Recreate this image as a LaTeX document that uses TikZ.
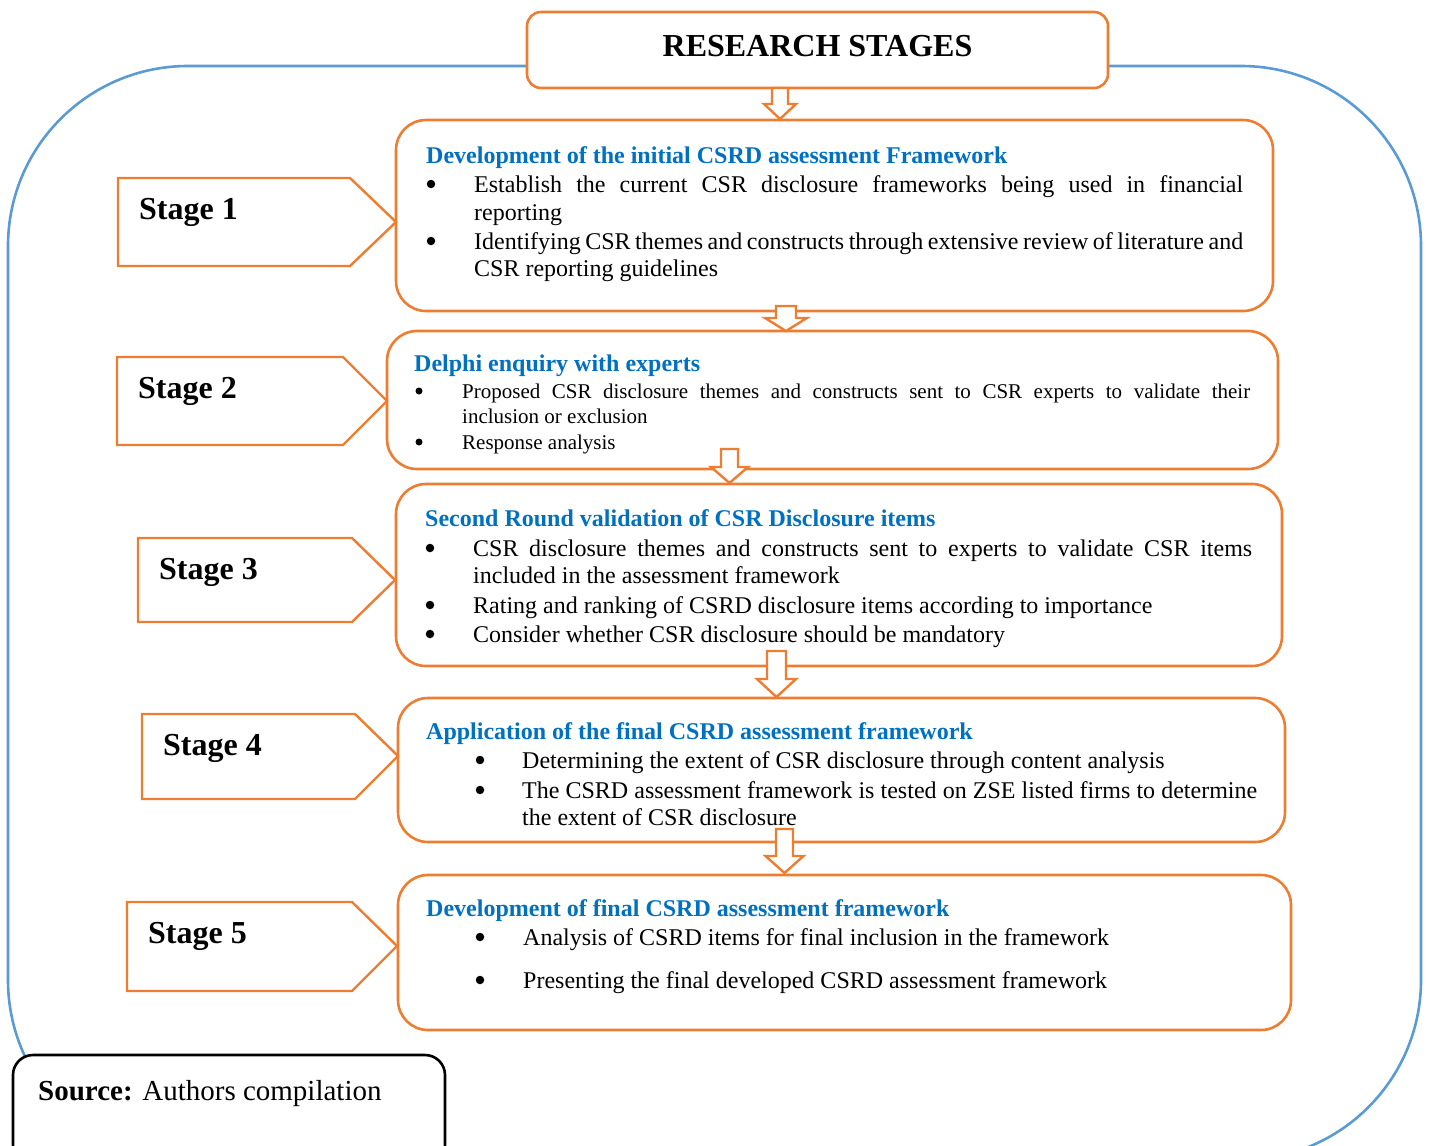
\documentclass[tikz,border=0pt]{standalone}
\usepackage{fontspec}
\setmainfont{Liberation Serif}
\definecolor{orangeline}{HTML}{ED7D31}
\definecolor{frameblue}{HTML}{5B9BD5}
\definecolor{headblue}{HTML}{0070C0}
\newcommand\hollowdown[6]{% centre x, top, head base, tip, shaft half width, head half width
  \draw[harrow] ({#1-#5},#2) -- ({#1+#5},#2) -- ({#1+#5},#3) -- ({#1+#6},#3)
    -- (#1,#4) -- ({#1-#6},#3) -- ({#1-#5},#3) -- cycle;}
\begin{document}
\begin{tikzpicture}[x=1pt,y=-1pt,
  outerframe/.style={draw=frameblue, line width=2.6pt, rounded corners=180pt},
  titlebox/.style={draw=orangeline, line width=2.6pt, rounded corners=14pt, fill=white, inner sep=0},
  stagebox/.style={draw=orangeline, line width=2.6pt, rounded corners=30pt, inner sep=0},
  tagshape/.style={draw=orangeline, line width=2.4pt, fill=white},
  harrow/.style={draw=orangeline, line width=2.4pt, fill=white, line join=miter},
  sourcebox/.style={draw=black, line width=2.6pt, rounded corners=20pt, fill=white, inner sep=0},
  taglabel/.style={font=\fontsize{32}{36}\selectfont\bfseries, anchor=base west, inner sep=0},
  head/.style={font=\fontsize{24}{28}\selectfont\bfseries, text=headblue, anchor=base west, inner sep=0},
  body/.style={font=\fontsize{24}{28}\selectfont, anchor=base west, inner sep=0},
  smallbody/.style={font=\fontsize{21}{25}\selectfont, anchor=base west, inner sep=0},
  dot/.style={circle, fill=black, inner sep=0, minimum size=8.5pt, yshift=-8pt},
  smalldot/.style={circle, fill=black, inner sep=0, minimum size=7pt, yshift=-7pt}]
\useasboundingbox (0,0) rectangle (1430,1146);

% surrounding frame
\draw[outerframe] (8,66) rectangle (1421,1160);

% title
\node[titlebox, minimum width=581pt, minimum height=76pt] (title) at (817.5,50) {};
\node[font=\fontsize{32}{36}\selectfont\bfseries, anchor=base, inner sep=0] (titletext) at (817.5,56) {RESEARCH STAGES};

% stage boxes
\node[stagebox, minimum width=877pt, minimum height=191pt] (b1) at (834.5,215.5) {};
\node[stagebox, minimum width=891pt, minimum height=138pt] (b2) at (832.5,400) {};
\node[stagebox, minimum width=886pt, minimum height=182pt] (b3) at (839,575) {};
\node[stagebox, minimum width=887pt, minimum height=144pt] (b4) at (841.5,770) {};
\node[stagebox, minimum width=893pt, minimum height=155pt] (b5) at (844.5,952.5) {};

% stage tags
\draw[tagshape] (118,178) -- (350,178) -- (396,222) -- (350,266) -- (118,266) -- cycle;
\node[taglabel] (s1) at (139,219) {Stage 1};
\draw[tagshape] (117,357) -- (343,357) -- (387,401) -- (343,445) -- (117,445) -- cycle;
\node[taglabel] (s2) at (138,398) {Stage 2};
\draw[tagshape] (138,538) -- (352,538) -- (395,580) -- (352,622) -- (138,622) -- cycle;
\node[taglabel] (s3) at (159,579) {Stage 3};
\draw[tagshape] (142,714) -- (355,714) -- (398,756) -- (355,799) -- (142,799) -- cycle;
\node[taglabel] (s4) at (163,755) {Stage 4};
\draw[tagshape] (127,902) -- (352,902) -- (397,946) -- (352,991) -- (127,991) -- cycle;
\node[taglabel] (s5) at (148,943) {Stage 5};

% flow arrows
\hollowdown{780}{88}{104}{119}{8}{16}
\hollowdown{786}{306}{318}{331}{10}{21}
\hollowdown{729.5}{449}{467}{483}{8.5}{18.5}
\hollowdown{776.5}{651}{679}{697}{9.5}{19.5}
\hollowdown{784.5}{829}{856}{873}{8.5}{19}

% stage 1 text (bullets sit at x-height centre, about 8 above the baseline)
\node[head] (h1) at (426,163) {Development of the initial CSRD assessment Framework};
\node[dot] (d11) at (431,176) {};
\node[body] (t11) at (474,192) {\makebox[769pt][s]{Establish the current CSR disclosure frameworks being used in financial}};
\node[body] (t12) at (474,220) {reporting};
\node[dot] (d12) at (431,233) {};
\node[body] (t13) at (474,249) {\makebox[769pt][s]{Identifying CSR themes and constructs through extensive review of literature and}};
\node[body] (t14) at (474,276) {CSR reporting guidelines};

% stage 2 text
\node[head] (h2) at (414,371) {Delphi enquiry with experts};
\node[smalldot] (d21) at (419,384) {};
\node[smallbody] (t21) at (462,398) {\makebox[788pt][s]{Proposed CSR disclosure themes and constructs sent to CSR experts to validate their}};
\node[smallbody] (t22) at (462,423) {inclusion or exclusion};
\node[smalldot] (d22) at (419,435) {};
\node[smallbody] (t23) at (462,449) {Response analysis};

% stage 3 text
\node[head] (h3) at (425,526) {Second Round validation of CSR Disclosure items};
\node[dot] (d31) at (430,540) {};
\node[body] (t31) at (473,556) {\makebox[779pt][s]{CSR disclosure themes and constructs sent to experts to validate CSR items}};
\node[body] (t32) at (473,583) {included in the assessment framework};
\node[dot] (d32) at (430,597) {};
\node[body] (t33) at (473,613) {Rating and ranking of CSRD disclosure items according to importance};
\node[dot] (d33) at (430,626) {};
\node[body] (t34) at (473,642) {Consider whether CSR disclosure should be mandatory};

% stage 4 text
\node[head] (h4) at (426,739) {Application of the final CSRD assessment framework};
\node[dot] (d41) at (480,752) {};
\node[body] (t41) at (522,768) {Determining the extent of CSR disclosure through content analysis};
\node[dot] (d42) at (480,782) {};
\node[body] (t42) at (522,798) {\makebox[735pt][s]{The CSRD assessment framework is tested on ZSE listed firms to determine}};
\node[body] (t43) at (522,825) {the extent of CSR disclosure};

% stage 5 text
\node[head] (h5) at (426,916) {Development of final CSRD assessment framework};
\node[dot] (d51) at (480,929) {};
\node[body] (t51) at (523,945) {Analysis of CSRD items for final inclusion in the framework};
\node[dot] (d52) at (480,972) {};
\node[body] (t52) at (523,988) {Presenting the final developed CSRD assessment framework};

% source note
\node[sourcebox, minimum width=432pt, minimum height=110pt] (src) at (229,1110) {};
\node[font=\fontsize{29}{33}\selectfont, anchor=base west, inner sep=0] (srctext) at (38,1100) {\textbf{Source:} Authors compilation};
\end{tikzpicture}
\end{document}
